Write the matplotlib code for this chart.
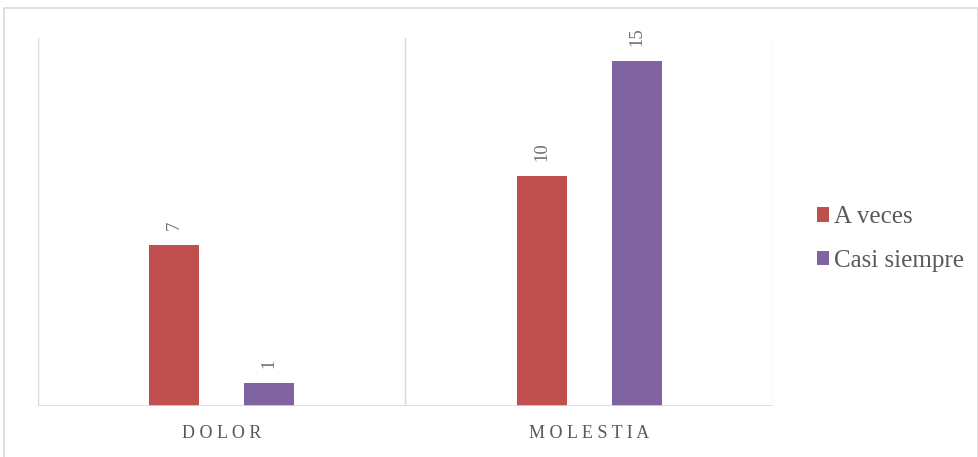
import matplotlib
matplotlib.use("Agg")
import matplotlib.pyplot as plt
from matplotlib.patches import Rectangle
import numpy as np

categories = ["DOLOR", "MOLESTIA"]
series_names = ["A veces", "Casi siempre"]
a_veces = [7, 10]
casi_siempre = [1, 15]

RED = "#C0504D"
PURPLE = "#8064A2"
GRID = "#D9D9D9"
TEXT = "#595959"
LABEL = "#707070"
FONT = "Liberation Serif"

W, H = 979, 457
fig = plt.figure(figsize=(W / 100, H / 100), dpi=100)
fig.patch.set_facecolor("white")

# outer chart border
fig.patches.append(Rectangle((4 / W, -0.01), (W - 5) / W, (H - 8) / H + 0.01,
                             transform=fig.transFigure, fill=False,
                             edgecolor=GRID, linewidth=1.2))

ax = fig.add_axes([38 / W, (H - 406) / H, (773 - 38) / W, (406 - 38) / H])
x = np.arange(len(categories))
bw = 0.136
off = 0.129
b1 = ax.bar(x - off, a_veces, bw, color=RED, label=series_names[0])
b2 = ax.bar(x + off, casi_siempre, bw, color=PURPLE, label=series_names[1])

for bars in (b1, b2):
    for bar in bars:
        ax.annotate(str(int(bar.get_height())),
                    (bar.get_x() + bar.get_width() / 2, bar.get_height()),
                    xytext=(0, 11), textcoords="offset points",
                    rotation=90, ha="center", va="bottom",
                    fontsize=13.5, color=LABEL, family=FONT)

ax.set_xlim(-0.5, 1.5)
ax.set_ylim(0, 16)
ax.set_yticks([])
ax.set_xticks([])
for s in ax.spines.values():
    s.set_visible(False)
for xv in (-0.5, 0.5, 1.5):
    ax.axvline(xv, color=GRID, linewidth=1, zorder=0)
ax.axhline(0, color=GRID, linewidth=1.2, zorder=3)

for xi, cat in zip(x, categories):
    ax.annotate(" ".join(cat), (xi, 0), xytext=(0, -20),
                textcoords="offset points", ha="center", va="center",
                fontsize=13, color=TEXT, family=FONT)

leg = fig.legend(handles=[b1, b2], labels=series_names,
                 loc="center left", bbox_to_anchor=(794 / W, (H - 239) / H),
                 frameon=False, prop={"family": FONT, "size": 18},
                 handlelength=0.5, handleheight=0.5, handletextpad=0.2,
                 labelspacing=0.85, labelcolor=TEXT)

fig.savefig("out.png", dpi=100)
